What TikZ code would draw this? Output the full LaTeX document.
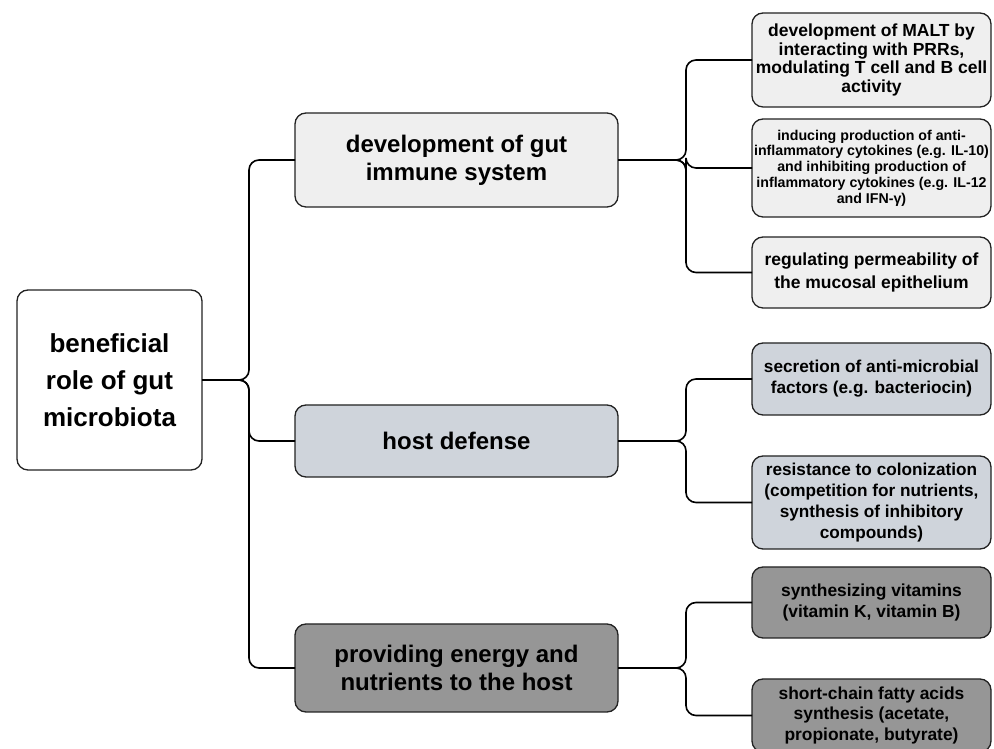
\documentclass[tikz,border=0pt]{standalone}
\usepackage{fontspec}
\setmainfont{Liberation Sans}
\usepackage{xcolor}
\usepackage{tikz}
\usetikzlibrary{positioning}
\definecolor{immunefill}{HTML}{EFEFEF}
\definecolor{defensefill}{HTML}{CFD4DB}
\definecolor{energyfill}{HTML}{969696}
\definecolor{edge}{HTML}{222222}
\newcommand{\fs}[2]{\fontsize{#1}{#2}\selectfont}

\begin{document}
\begin{tikzpicture}[
    x=1pt, y=1pt,
    every node/.style={align=center, text=black},
    box/.style={
      draw=edge, line width=1.3pt, outer sep=0pt,
      rounded corners=11pt, inner xsep=2pt, inner ysep=1pt
    },
    rootbox/.style={box, fill=white, minimum width=185pt, minimum height=180pt, font=\bfseries\fs{26}{37}},
    midbox/.style={box, minimum width=323pt, font=\bfseries\fs{24}{28}},
    leafbox/.style={box, minimum width=239pt, font=\bfseries\fs{17.4}{20.7}},
    link/.style={draw=black, line width=1.6pt, rounded corners=10pt}
]
  \path[use as bounding box, fill=white] (0,0) rectangle (994,749);

  \node[rootbox] (root) at (109.5,369) {beneficial\\role of gut\\microbiota};

  \node[midbox, fill=immunefill, minimum height=94pt] (immune) at (456.5,589) {development of gut\\immune system};
  \node[midbox, fill=defensefill, minimum height=72pt, below=198pt of immune] (defense) {host defense};
  \node[midbox, fill=energyfill, minimum height=88pt, below=147pt of defense] (energy) {providing energy and\\nutrients to the host};

  \node[leafbox, fill=immunefill, minimum height=94pt, font=\bfseries\fs{17.5}{18.5}] (malt) at (871.5,689) {development of MALT by\\interacting with PRRs,\\modulating T cell and B cell\\activity};
  \node[leafbox, fill=immunefill, minimum height=98pt, below=12pt of malt, font=\bfseries\fs{14.2}{15.7}] (cytokines) {inducing production of anti-\\inflammatory cytokines (e.g. IL-10)\\and inhibiting production of\\inflammatory cytokines (e.g. IL-12\\and IFN-γ)};
  \node[leafbox, fill=immunefill, minimum height=71pt, below=20pt of cytokines, font=\bfseries\fs{17.5}{22.7}] (barrier) {regulating permeability of\\the mucosal epithelium};

  \node[leafbox, fill=defensefill, minimum height=72pt, below=35pt of barrier, font=\bfseries\fs{17.2}{21}] (bacteriocin) {secretion of anti-microbial\\factors (e.g. bacteriocin)};
  \node[leafbox, fill=defensefill, minimum height=93pt, below=41pt of bacteriocin, font=\bfseries\fs{17.2}{21}] (colonization) {resistance to colonization\\(competition for nutrients,\\synthesis of inhibitory\\compounds)};

  \node[leafbox, fill=energyfill, minimum height=71pt, below=18pt of colonization] (vitamins) {synthesizing vitamins\\(vitamin K, vitamin B)};
  \node[leafbox, fill=energyfill, minimum height=73pt, below=41pt of vitamins] (scfa) {short-chain fatty acids\\synthesis (acetate,\\propionate, butyrate)};

  \draw[link] (root.east) -- ++(47,0) |- (immune.west);
  \draw[link] (root.east) -- ++(47,0) |- (defense.west);
  \draw[link] (root.east) -- ++(47,0) |- (energy.west);

  \draw[link] (immune.east) -- ++(68,0) |- (malt.west);
  \draw[link] (immune.east) -- ++(68,0) |- (cytokines.west);
  \draw[link] (immune.east) -- ++(68,0) |- (barrier.west);

  \draw[link] (defense.east) -- ++(68,0) |- (bacteriocin.west);
  \draw[link] (defense.east) -- ++(68,0) |- (colonization.west);

  \draw[link] (energy.east) -- ++(68,0) |- (vitamins.west);
  \draw[link] (energy.east) -- ++(68,0) |- (scfa.west);
\end{tikzpicture}
\end{document}
